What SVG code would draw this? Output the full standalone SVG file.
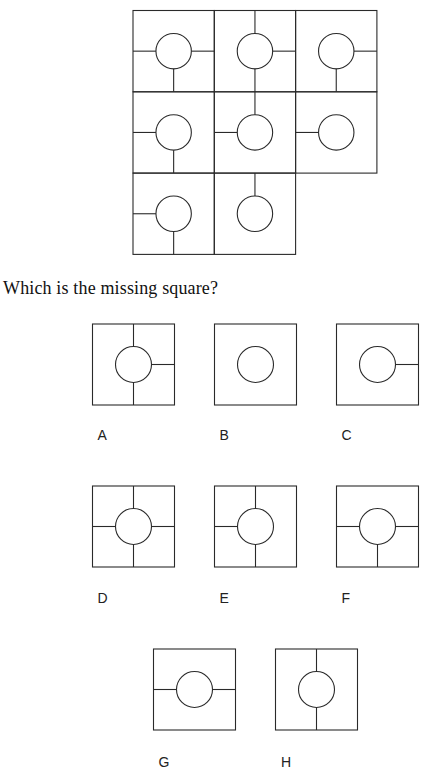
<svg xmlns="http://www.w3.org/2000/svg" xmlns:xlink="http://www.w3.org/1999/xlink" width="430" height="780" viewBox="0 0 430 780">
<style>
.b{fill:none;stroke:#2a2a2a;stroke-width:1.1}
.c{fill:#fff;stroke:#2a2a2a;stroke-width:1.1}
.s{stroke:#2a2a2a;stroke-width:1.1}
.lbl{font-family:"Liberation Sans",Arial,sans-serif;font-size:14px;fill:#222}
.q{font-family:"Liberation Serif","Times New Roman",serif;font-size:18px;fill:#111}
</style>
<rect width="430" height="780" fill="#fff"/>
<defs>
<g id="gl"><line class="s" x1="0" y1="40.65" x2="22.95" y2="40.65"/></g>
<g id="gr"><line class="s" x1="58.35" y1="40.65" x2="81.3" y2="40.65"/></g>
<g id="gt"><line class="s" x1="40.65" y1="0" x2="40.65" y2="22.95"/></g>
<g id="gb"><line class="s" x1="40.65" y1="58.35" x2="40.65" y2="81.3"/></g>
<g id="gcell"><rect class="b" x="0" y="0" width="81.3" height="81.3"/><circle class="c" cx="40.65" cy="40.65" r="17.7"/></g>
<g id="ol"><line class="s" x1="0" y1="40.5" x2="23" y2="40.5"/></g>
<g id="or"><line class="s" x1="59" y1="40.5" x2="82" y2="40.5"/></g>
<g id="ot"><line class="s" x1="41" y1="0" x2="41" y2="22.5"/></g>
<g id="ob"><line class="s" x1="41" y1="58.5" x2="41" y2="81"/></g>
<g id="obox"><rect class="b" x="0" y="0" width="82" height="81"/><circle class="c" cx="41" cy="40.5" r="18"/></g>
</defs>
<g id="grid">
<g id="r1c1" transform="translate(133,10.5)"><use xlink:href="#gcell"/><use xlink:href="#gl"/><use xlink:href="#gr"/><use xlink:href="#gb"/></g>
<g id="r1c2" transform="translate(214.3,10.5)"><use xlink:href="#gcell"/><use xlink:href="#gt"/><use xlink:href="#gr"/><use xlink:href="#gb"/></g>
<g id="r1c3" transform="translate(295.6,10.5)"><use xlink:href="#gcell"/><use xlink:href="#gr"/><use xlink:href="#gb"/></g>
<g id="r2c1" transform="translate(133,91.8)"><use xlink:href="#gcell"/><use xlink:href="#gl"/><use xlink:href="#gb"/></g>
<g id="r2c2" transform="translate(214.3,91.8)"><use xlink:href="#gcell"/><use xlink:href="#gt"/><use xlink:href="#gl"/></g>
<g id="r2c3" transform="translate(295.6,91.8)"><use xlink:href="#gcell"/><use xlink:href="#gl"/></g>
<g id="r3c1" transform="translate(133,173.1)"><use xlink:href="#gcell"/><use xlink:href="#gl"/><use xlink:href="#gb"/></g>
<g id="r3c2" transform="translate(214.3,173.1)"><use xlink:href="#gcell"/><use xlink:href="#gt"/></g>
</g>
<text class="q" x="3" y="294" textLength="215" lengthAdjust="spacing">Which is the missing square?</text>
<g id="optA" transform="translate(92.5,324)"><use xlink:href="#obox"/><use xlink:href="#ot"/><use xlink:href="#or"/><use xlink:href="#ob"/></g>
<g id="optB" transform="translate(214.5,324)"><use xlink:href="#obox"/></g>
<g id="optC" transform="translate(336.5,324)"><use xlink:href="#obox"/><use xlink:href="#or"/></g>
<g id="optD" transform="translate(92.5,486)"><use xlink:href="#obox"/><use xlink:href="#ot"/><use xlink:href="#or"/><use xlink:href="#ob"/><use xlink:href="#ol"/></g>
<g id="optE" transform="translate(214.5,486)"><use xlink:href="#obox"/><use xlink:href="#ot"/><use xlink:href="#ol"/><use xlink:href="#ob"/></g>
<g id="optF" transform="translate(336.5,486)"><use xlink:href="#obox"/><use xlink:href="#ol"/><use xlink:href="#or"/><use xlink:href="#ob"/></g>
<g id="optG" transform="translate(153.5,649)"><use xlink:href="#obox"/><use xlink:href="#ol"/><use xlink:href="#or"/></g>
<g id="optH" transform="translate(275.5,649)"><use xlink:href="#obox"/><use xlink:href="#ot"/><use xlink:href="#ob"/></g>
<g id="labels">
<text class="lbl" x="97.5" y="440">A</text>
<text class="lbl" x="219.5" y="440">B</text>
<text class="lbl" x="341.5" y="440">C</text>
<text class="lbl" x="97.5" y="603">D</text>
<text class="lbl" x="219.5" y="603">E</text>
<text class="lbl" x="341.5" y="603">F</text>
<text class="lbl" x="158.5" y="767">G</text>
<text class="lbl" x="281" y="767">H</text>
</g>
</svg>
